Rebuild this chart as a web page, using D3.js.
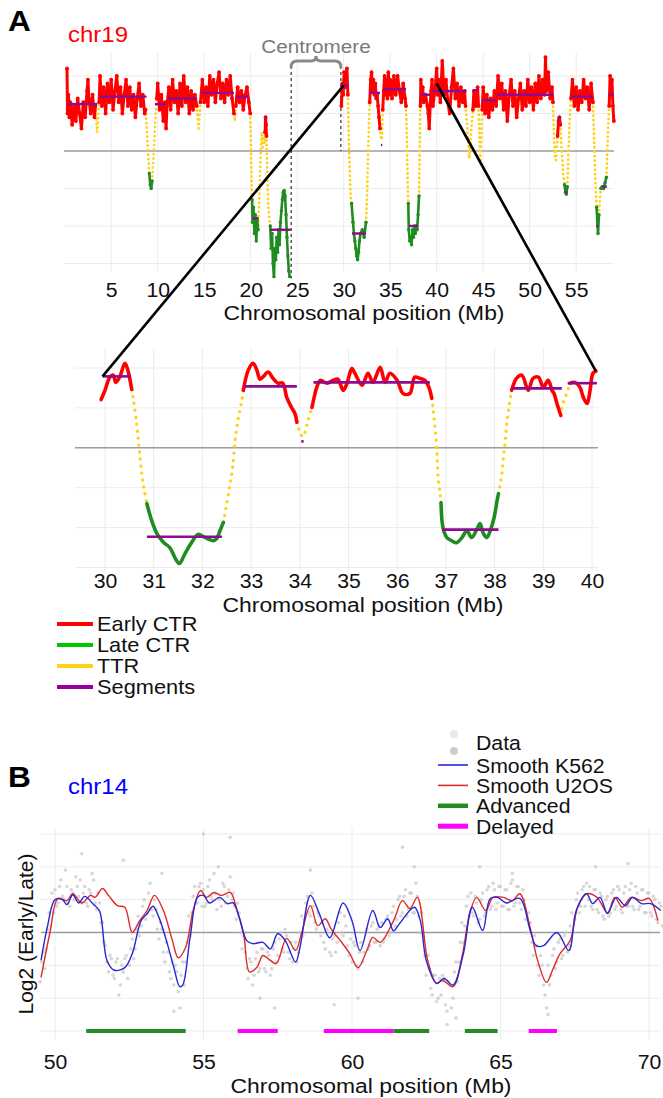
<!DOCTYPE html>
<html>
<head>
<meta charset="utf-8">
<script src="https://cdn.jsdelivr.net/npm/d3@7"></script>
<style>
  body { margin: 0; background: #fff; }
  svg text { font-family: "Liberation Sans", Arial, sans-serif; }
</style>
</head>
<body>
<div id="fig"></div>
<script>
// ---------- Panel A, whole chr19: runs of [Mb, log2] by class ----------
const chr19Early = [
  [[0.25,2.2],[0.3,1.0],[0.4,1.5],[0.5,0.9],[0.6,1.3],[0.8,0.7],[1.0,1.2],[1.2,0.8],[1.4,1.4],[1.6,1.0],[1.8,0.6],[2.0,1.3],[2.2,0.9],[2.4,1.6],[2.5,1.9],[2.6,1.4],[2.8,1.0],[3.0,1.5],[3.2,0.9],[3.3,1.2]],
  [[3.7,1.3],[3.8,2.0],[4.0,1.2],[4.2,1.7],[4.4,1.0],[4.6,1.8],[4.8,1.3],[5.0,1.9],[5.2,1.1],[5.4,1.6],[5.6,2.0],[5.8,1.3],[6.0,1.7],[6.2,1.0],[6.4,1.5],[6.6,1.9],[6.8,1.2],[7.0,1.7],[7.2,1.1],[7.4,1.5],[7.6,0.9],[7.8,1.4],[8.0,1.8],[8.2,1.2],[8.4,1.5],[8.6,1.0],[8.7,1.1]],
  [[9.9,1.4],[10.0,1.8],[10.2,1.1],[10.4,1.5],[10.6,0.8],[10.8,1.3],[10.9,0.6],[11.0,1.2],[11.2,1.7],[11.4,1.1],[11.6,1.9],[11.8,1.3],[12.0,1.6],[12.2,1.0],[12.4,1.8],[12.6,1.2],[12.8,2.0],[13.0,1.3],[13.2,1.7],[13.4,1.0],[13.6,1.6],[13.8,1.1],[14.0,1.5],[14.2,1.2]],
  [[14.6,1.3],[14.8,1.9],[15.0,1.3],[15.2,1.7],[15.4,1.2],[15.6,2.0],[15.8,1.5],[16.0,1.9],[16.2,1.3],[16.4,1.8],[16.6,2.1],[16.8,1.4],[17.0,1.8],[17.2,1.3],[17.4,1.9],[17.6,1.5],[17.8,2.0],[18.0,1.4],[18.2,1.0]],
  [[18.4,1.2],[18.6,1.7],[18.8,1.3],[19.0,1.6],[19.2,1.1],[19.4,1.5],[19.6,1.7],[19.8,1.3],[19.95,1.0]],
  [[21.55,0.5],[21.6,0.9],[21.65,0.7],[21.7,0.4]],
  [[29.75,1.2],[29.85,1.8],[29.95,1.5],[30.05,2.1],[30.15,1.7],[30.25,2.0],[30.35,2.2],[30.45,1.5]],
  [[32.8,1.3],[32.9,1.9],[33.0,2.1],[33.1,1.6],[33.2,1.9],[33.3,1.5],[33.4,1.8],[33.5,1.4],[33.6,1.5],[33.7,1.2],[33.8,0.9],[33.9,0.6]],
  [[34.2,1.1],[34.3,1.6],[34.4,2.0],[34.5,1.5],[34.6,1.9],[34.7,1.4],[34.8,2.1],[34.9,1.5],[35.0,1.9],[35.2,1.4],[35.4,2.0],[35.6,1.5],[35.8,2.0],[36.0,1.6],[36.2,1.3],[36.4,1.8],[36.6,1.4],[36.7,1.2]],
  [[38.25,1.2],[38.3,1.9],[38.4,1.4],[38.5,1.7],[38.6,1.3],[38.8,1.5],[39.0,1.2],[39.1,1.0],[39.2,0.6],[39.3,1.2],[39.4,1.6],[39.5,1.9],[39.6,1.2],[39.8,1.6],[40.0,2.2],[40.1,1.5],[40.2,1.9],[40.4,1.3],[40.6,2.4],[40.8,1.5],[41.0,1.9],[41.2,1.3],[41.4,1.0],[41.6,1.7],[41.8,2.2],[42.0,1.4],[42.2,1.8],[42.4,1.2],[42.6,1.7],[42.8,1.3],[43.0,1.6],[43.1,1.2]],
  [[43.9,1.1],[44.0,1.6],[44.2,1.2],[44.4,1.7],[44.5,1.2]],
  [[44.9,1.1],[45.0,1.7],[45.2,1.0],[45.4,1.5],[45.6,0.9],[45.8,1.4],[46.0,1.1],[46.2,1.6],[46.4,1.2],[46.6,2.0],[46.8,1.4],[47.0,1.8],[47.2,1.1],[47.4,1.6],[47.6,0.8],[47.8,1.5],[48.0,1.9],[48.2,1.2],[48.4,1.6],[48.6,0.9],[48.8,1.4],[49.0,1.8],[49.2,1.1],[49.4,1.6],[49.6,1.2],[49.8,1.9],[50.0,1.3],[50.2,1.7],[50.4,1.1],[50.6,1.8],[50.8,1.3],[51.0,2.0],[51.2,1.4],[51.4,1.9],[51.6,1.5],[51.7,2.5],[51.8,1.6],[52.0,2.1],[52.2,1.4],[52.4,1.7],[52.5,1.3]],
  [[53.0,0.4],[53.1,0.8],[53.2,0.9],[53.3,0.7]],
  [[54.45,1.4],[54.6,1.9],[54.8,1.2],[55.0,1.7],[55.2,1.1],[55.4,1.6],[55.6,1.3],[55.8,1.9],[56.0,1.4],[56.2,1.7],[56.4,1.1],[56.6,1.8],[56.8,1.3]],
  [[58.55,1.2],[58.65,2.0],[58.75,1.5],[58.85,1.9],[58.95,1.2],[59.05,0.8]]
];
const chr19TTR = [
  [[3.3,1.2],[3.4,0.8],[3.5,0.5],[3.6,0.9],[3.7,1.3]],
  [[8.7,1.1],[8.8,0.7],[8.9,0.3],[9.0,-0.2],[9.1,-0.6]],
  [[9.4,-0.8],[9.5,-0.4],[9.6,0.1],[9.7,0.6],[9.8,1.1],[9.9,1.4]],
  [[14.2,1.2],[14.3,0.9],[14.4,0.6],[14.5,0.9],[14.6,1.3]],
  [[18.2,1.0],[18.3,0.8],[18.4,1.2]],
  [[19.95,1.0],[20.0,0.5],[20.05,-0.2],[20.1,-0.8],[20.15,-1.3]],
  [[20.8,-2.1],[20.9,-1.4],[21.0,-0.6],[21.1,0.1],[21.2,0.5],[21.3,0.1],[21.4,0.4],[21.5,0.2],[21.55,0.5]],
  [[21.7,0.4],[21.75,-0.2],[21.8,-0.7],[21.85,-1.2],[21.9,-1.5],[22.0,-1.8],[22.1,-2.0]],
  [[30.45,1.5],[30.55,0.3],[30.65,-0.5],[30.75,-1.2],[30.85,-1.4]],
  [[32.4,-1.9],[32.5,-1.3],[32.6,-0.3],[32.7,0.6],[32.8,1.3]],
  [[33.9,0.6],[34.0,0.35],[34.1,0.3],[34.2,1.1]],
  [[36.7,1.2],[36.8,0.3],[36.85,-0.4],[36.9,-1.1],[36.95,-1.4]],
  [[38.1,-1.2],[38.15,-0.4],[38.2,0.5],[38.25,1.2]],
  [[43.1,1.2],[43.3,0.6],[43.5,-0.2],[43.7,0.5],[43.9,1.1]],
  [[44.5,1.2],[44.6,0.3],[44.7,-0.3],[44.8,0.4],[44.9,1.1]],
  [[52.5,1.3],[52.6,0.5],[52.7,-0.1],[52.8,-0.25],[52.9,0.0],[53.0,0.4]],
  [[53.3,0.7],[53.45,0.0],[53.6,-0.6],[53.75,-0.9]],
  [[54.05,-0.95],[54.15,-0.2],[54.25,0.5],[54.35,1.1],[54.45,1.4]],
  [[56.8,1.3],[56.9,0.6],[57.0,-0.3],[57.1,-1.0],[57.2,-1.5]],
  [[57.45,-1.7],[57.55,-1.3],[57.65,-1.0]],
  [[58.25,-0.7],[58.35,0.0],[58.45,0.7],[58.55,1.2]]
];
const chr19Late = [
  [[9.1,-0.6],[9.2,-0.9],[9.3,-1.0],[9.4,-0.8]],
  [[20.15,-1.3],[20.2,-1.9],[20.3,-1.5],[20.4,-2.2],[20.5,-1.7],[20.6,-2.4],[20.7,-1.8],[20.8,-2.1]],
  [[22.1,-2.0],[22.2,-2.6],[22.3,-2.2],[22.4,-3.0],[22.5,-3.35],[22.6,-2.6],[22.7,-2.9],[22.8,-2.3],[22.9,-2.7],[23.0,-2.1],[23.1,-2.5],[23.2,-1.9],[23.3,-1.6],[23.4,-1.3],[23.5,-1.1],[23.6,-1.05],[23.7,-1.2],[23.8,-1.7],[23.9,-2.3],[24.0,-2.8],[24.1,-3.2],[24.2,-3.35]],
  [[30.85,-1.4],[31.0,-1.9],[31.1,-2.2],[31.2,-2.4],[31.3,-2.6],[31.4,-2.8],[31.5,-2.9],[31.6,-2.7],[31.7,-2.4],[31.8,-2.2],[32.0,-2.1],[32.2,-2.3],[32.4,-1.9]],
  [[36.95,-1.4],[37.0,-2.1],[37.1,-2.4],[37.2,-2.3],[37.3,-2.5],[37.4,-2.1],[37.5,-2.3],[37.6,-2.0],[37.7,-2.2],[37.8,-2.0],[37.9,-2.1],[38.0,-1.7],[38.1,-1.2]],
  [[53.75,-0.9],[53.85,-1.1],[53.95,-1.15],[54.05,-0.95]],
  [[57.2,-1.5],[57.3,-2.0],[57.35,-2.2],[57.45,-1.7]],
  [[57.65,-1.0],[57.8,-0.95],[57.95,-1.0],[58.1,-0.85],[58.25,-0.7]]
];
// [start Mb, end Mb, level]
const chr19Segments = [[0.25,3.5,1.25],[3.7,8.8,1.45],[9.7,10.9,1.25],[11.1,14.2,1.4],[14.7,18.2,1.55],[18.4,19.8,1.45],[20.2,20.8,-1.8],[21.55,21.7,0.9],[22.1,24.3,-2.1],[29.8,30.5,1.75],[30.9,32.4,-2.2],[32.8,33.9,1.55],[34.0,34.15,0.16],[34.3,36.7,1.65],[37.0,38.0,-2.0],[38.3,39.3,1.5],[39.5,43.2,1.6],[43.9,44.5,1.62],[44.9,46.4,1.35],[46.5,52.5,1.5],[53.0,53.3,0.88],[53.8,54.0,-1.1],[54.4,56.8,1.45],[57.2,57.4,-2.0],[57.8,58.3,-0.95],[58.6,59.05,1.5]];
const centromere = [24.35, 29.7];
const chr19Ticks = [5, 10, 15, 20, 25, 30, 35, 40, 45, 50, 55];

// ---------- Panel A, zoom 30-40 Mb ----------
const zoomEarly = [
  [[29.92,1.21],[30.0,1.44],[30.1,1.77],[30.17,1.82],[30.22,1.64],[30.3,1.77],[30.41,2.12],[30.47,1.94],[30.55,1.46]],
  [[32.84,1.44],[32.94,1.94],[33.04,2.12],[33.12,1.94],[33.18,1.72],[33.24,1.77],[33.35,1.9],[33.45,1.74],[33.55,1.62],[33.65,1.62],[33.73,1.27],[33.83,1.01],[33.9,0.86],[33.94,0.64]],
  [[34.25,1.01],[34.29,1.24],[34.35,1.52],[34.42,1.69],[34.56,1.62],[34.68,1.69],[34.78,1.72],[34.89,1.44],[34.97,1.62],[35.07,1.99],[35.13,1.87],[35.28,1.57],[35.4,1.87],[35.5,1.64],[35.65,2.02],[35.75,1.64],[35.85,1.87],[36.0,1.69],[36.12,1.36],[36.26,1.36],[36.36,1.77],[36.47,1.74],[36.57,1.69],[36.65,1.52],[36.71,1.24]],
  [[38.35,1.44],[38.45,1.74],[38.56,1.82],[38.69,1.44],[38.79,1.74],[38.9,1.77],[39.0,1.52],[39.1,1.69],[39.18,1.44],[39.22,1.36],[39.28,1.11],[39.36,0.81]],
  [[39.55,1.62],[39.65,1.64],[39.75,1.52],[39.82,1.27],[39.9,1.11],[39.96,1.44],[40.02,1.87],[40.08,1.92]]
];
const zoomTTR = [
  [[30.55,1.46],[30.64,0.71],[30.7,0.0],[30.76,-0.7],[30.82,-1.15],[30.86,-1.4]],
  [[32.43,-1.87],[32.5,-1.4],[32.57,-0.9],[32.62,-0.49],[32.67,0.18],[32.74,0.76],[32.81,1.19],[32.84,1.44]],
  [[33.94,0.64],[34.0,0.39],[34.06,0.28],[34.1,0.36],[34.17,0.69],[34.25,1.01]],
  [[36.71,1.24],[36.74,0.94],[36.8,0.18],[36.82,-0.24],[36.84,-0.74],[36.88,-1.15],[36.9,-1.37]],
  [[38.08,-1.15],[38.15,-0.65],[38.18,-0.24],[38.22,0.18],[38.25,0.61],[38.3,1.06],[38.35,1.44]],
  [[39.36,0.81],[39.4,1.11],[39.48,1.36],[39.55,1.62]]
];
const zoomLate = [
  [[30.86,-1.4],[30.96,-1.83],[31.07,-2.16],[31.2,-2.37],[31.33,-2.5],[31.47,-2.83],[31.53,-2.9],[31.64,-2.66],[31.78,-2.37],[31.91,-2.17],[32.01,-2.22],[32.11,-2.28],[32.22,-2.33],[32.29,-2.28],[32.36,-2.08],[32.43,-1.87]],
  [[36.9,-1.37],[36.94,-2.0],[37.02,-2.25],[37.12,-2.33],[37.22,-2.38],[37.33,-2.25],[37.43,-2.08],[37.53,-2.25],[37.64,-2.03],[37.7,-1.9],[37.77,-2.15],[37.84,-2.25],[37.91,-2.08],[37.99,-1.75],[38.05,-1.33],[38.08,-1.15]]
];
const zoomSegments = [[29.95,30.53,1.79],[30.86,32.4,-2.23],[32.85,33.94,1.54],[34.03,34.08,0.16],[34.28,36.67,1.64],[36.92,38.08,-2.05],[38.37,39.38,1.49],[39.5,40.1,1.62]];
const zoomTicks = [30, 31, 32, 33, 34, 35, 36, 37, 38, 39, 40];
// where the two black connector lines attach: [Mb, level]
const linkTop = [[30, 1.75], [40, 1.8]];
const linkZoom = [[29.95, 1.79], [40.08, 1.92]];

// ---------- Panel B, chr14 ----------
const dataStart = 49.5, dataStep = 0.1;   // bin grid of the raw points
const dataRep1 = [-1.5,-0.6,-0.5,0.6,1.2,
  1.3,0.9,1.6,1.0,1.4,0.8,1.2,1.7,1.1,0.9,
  1.4,0.8,1.2,1.6,0.7,0.9,0.3,-0.4,-1.2,-0.8,
  -1.4,-0.8,-1.6,-1.2,-0.7,-1.0,-0.2,-0.5,0.5,0.2,
  1.0,0.6,1.5,0.5,0.7,-0.2,0.1,-0.9,-0.6,-1.4,
  -1.6,-1.2,-2.3,-0.9,-0.9,0.5,0.6,1.4,0.9,1.5,
  1.3,0.9,1.6,1.0,1.2,2.0,0.8,1.4,1.1,1.7,
  1.2,0.4,0.6,-0.5,-0.6,-1.4,-0.9,-1.3,-0.6,-1.1,
  -0.5,-1.2,-0.7,-1.1,-0.3,-0.7,0.0,-0.6,-0.1,-0.8,
  -0.9,-0.3,-0.6,0.5,0.4,1.1,0.5,0.8,0.1,0.5,
  0.3,-0.5,0.0,-0.7,-0.1,-0.3,0.6,-0.1,0.2,-0.7,
  -0.9,-0.4,-1.1,-0.3,-0.6,0.1,-0.4,0.3,-0.3,0.2,
  0.3,-0.2,0.5,0.0,0.8,0.4,1.1,0.6,1.3,0.7,
  1.2,0.6,1.1,0.0,-0.1,-1.3,-1.1,-1.9,-1.3,-2.0,
  -1.9,-1.4,-2.4,-1.6,-2.0,-0.9,-0.9,0.3,0.2,1.1,
  1.2,0.5,0.9,0.4,1.2,0.6,1.4,0.8,1.3,0.9,
  1.4,0.8,1.3,0.7,1.6,0.9,1.4,0.7,1.0,0.0,
  0.3,-0.7,-0.4,-1.3,-1.0,-1.9,-1.0,-1.3,-0.5,-0.9,
  -0.2,-0.7,0.0,-0.4,0.6,0.4,1.2,0.8,1.4,1.5,
  1.4,0.7,1.3,0.6,1.1,0.4,1.1,0.6,1.3,0.8,
  1.3,0.6,1.4,0.8,1.5,0.7,1.2,0.8,1.3,0.6,
  1.2,0.5,1.0,0.3,0.8];
const dataRep2 = [-0.9,-1.1,0.1,0.2,0.6,
  0.8,1.4,1.1,1.9,0.9,1.3,1.0,1.4,1.6,1.2,
  0.9,1.3,1.8,0.9,1.2,0.3,-0.3,-0.9,-0.7,-1.3,
  -0.9,-1.9,-1.0,-0.8,-1.4,-0.5,-0.8,0.1,-0.1,0.8,
  0.4,1.2,0.7,1.0,0.1,0.3,-0.6,-0.3,-1.2,-0.9,
  -1.0,-1.8,-1.3,-1.6,-0.3,-0.1,1.1,0.9,1.4,0.8,
  0.8,1.4,1.1,1.8,0.7,1.0,1.5,0.9,1.3,1.0,
  0.8,0.9,0.0,-0.1,-1.1,-0.8,-1.6,-0.8,-1.2,-0.5,
  -1.1,-0.6,-1.3,-0.5,-0.9,-0.2,-0.5,0.1,-0.6,-0.3,
  -0.5,-0.9,0.0,-0.1,0.9,0.6,1.2,0.3,0.6,-0.1,
  -0.3,0.1,-0.6,-0.2,-0.6,0.3,0.0,0.5,-0.4,-0.2,
  -0.3,-1.0,-0.6,-0.9,0.0,-0.5,0.2,-0.3,0.1,-0.4,
  -0.3,0.4,-0.1,0.6,0.2,1.0,0.5,1.1,0.5,1.2,
  0.6,1.5,0.5,0.6,-0.7,-0.7,-1.7,-1.3,-2.1,-1.4,
  -1.3,-2.2,-1.5,-2.3,-1.2,-1.5,-0.3,-0.3,0.8,0.5,
  0.6,1.1,0.3,1.0,0.5,1.3,0.7,1.5,0.7,1.4,
  0.8,1.3,0.7,1.5,0.8,1.4,0.9,1.3,0.4,0.6,
  -0.3,-0.1,-1.0,-0.7,-1.6,-2.3,-1.6,-0.7,-1.1,-0.3,
  -0.8,-0.1,-0.6,0.2,0.0,1.0,0.6,1.3,0.8,1.0,
  0.8,1.3,0.7,1.2,0.5,1.0,0.5,1.2,0.7,1.4,
  0.7,1.2,0.8,1.3,0.8,1.4,0.7,1.3,0.6,1.2,
  0.6,1.1,0.4,0.9,0.2];
const dataOutliers = [[50.9,2.4],[52.3,2.2],[53.6,1.8],[55.0,3.0],[55.9,2.9],[58.6,1.9],[61.7,2.6],[62.1,2.0],[64.3,2.0],[65.4,1.8],[68.2,2.0],[69.3,2.1],[54.0,-2.4],[56.9,-2.0],[57.4,-2.3],[59.4,-2.2],[60.2,-2.0],[63.2,-2.8],[63.5,-2.6],[66.6,-2.5]];
const smoothK562 = [[49.53,-0.85],[49.75,0.2],[50.0,1.0],[50.25,1.0],[50.4,0.85],[50.6,1.15],[50.8,0.9],[51.0,1.1],[51.3,0.85],[51.5,0.65],[51.75,-0.85],[52.0,-1.15],[52.35,-1.07],[52.6,-0.65],[52.9,0.36],[53.1,0.57],[53.3,0.8],[53.5,0.46],[53.75,-0.24],[54.0,-1.06],[54.2,-1.65],[54.3,-1.6],[54.55,-0.15],[54.8,1.07],[55.0,1.13],[55.2,0.9],[55.55,1.07],[55.8,0.88],[56.0,0.9],[56.2,0.46],[56.45,-0.24],[56.65,-0.34],[57.0,-0.3],[57.25,-0.5],[57.5,-0.03],[57.75,-0.24],[58.1,-0.9],[58.25,-0.45],[58.6,1.13],[58.9,0.57],[59.25,-0.16],[59.7,0.9],[60.0,0.36],[60.27,-0.55],[60.7,0.67],[60.95,0.15],[61.2,0.42],[61.4,0.05],[61.6,0.27],[62.1,0.77],[62.3,0.36],[62.5,-0.85],[62.85,-1.55],[63.1,-1.4],[63.4,-1.6],[63.75,-0.65],[64.05,0.77],[64.4,0.06],[64.65,1.03],[64.9,1.07],[65.2,0.9],[65.65,1.04],[66.0,0.06],[66.2,-0.4],[66.45,-0.4],[66.9,0.0],[67.3,-0.55],[67.55,0.67],[67.9,1.18],[68.1,0.88],[68.35,1.07],[68.6,0.58],[68.9,1.07],[69.2,0.82],[69.45,1.07],[69.75,0.88],[70.05,0.88],[70.4,0.67]];
const smoothU2OS = [[49.53,-1.37],[49.83,0.0],[50.1,1.04],[50.4,0.97],[50.6,1.18],[50.9,0.9],[51.2,1.13],[51.35,1.07],[51.6,1.34],[51.8,1.13],[52.1,0.82],[52.35,0.77],[52.6,0.0],[52.85,0.36],[53.1,0.67],[53.35,1.13],[53.65,0.67],[53.95,-0.24],[54.15,-0.77],[54.4,-0.45],[54.65,0.67],[54.9,1.28],[55.1,1.07],[55.35,1.22],[55.6,1.13],[55.9,1.22],[56.1,0.77],[56.35,-0.03],[56.55,-1.2],[56.8,-1.06],[57.0,-0.7],[57.25,-0.85],[57.45,-0.95],[57.8,-0.18],[58.1,-0.55],[58.3,-0.03],[58.6,0.82],[58.85,0.21],[59.1,0.42],[59.3,0.1],[59.6,-0.24],[59.93,-0.65],[60.2,-1.07],[60.5,-0.55],[60.7,-0.15],[60.95,-0.3],[61.4,0.36],[61.7,0.97],[61.95,0.73],[62.2,1.07],[62.55,-0.85],[62.85,-1.55],[63.05,-1.46],[63.4,-1.65],[63.7,-0.75],[63.97,0.6],[64.2,1.07],[64.5,0.67],[64.75,1.07],[65.1,1.07],[65.4,0.97],[65.65,1.18],[66.0,0.15],[66.25,-0.85],[66.55,-1.52],[66.75,-1.15],[67.0,-0.65],[67.35,-0.24],[67.6,0.77],[67.9,1.18],[68.25,1.07],[68.6,0.6],[68.85,1.07],[69.1,0.77],[69.4,1.07],[69.75,0.97],[70.0,1.04],[70.3,0.36]];
const advanced = [[51.05,54.4],[61.4,62.6],[63.8,64.9]];
const delayed = [[56.15,57.5],[59.05,61.4],[65.95,66.9]];
const chr14Ticks = [50, 55, 60, 65, 70];

const COL = {
  early: '#ff0000', late: '#1f8c1f', ttr: '#ffd21a', seg: '#8e0a8e',
  grid: '#ececec', zero: '#9c9c9c', gray: '#c9c9c9',
  k562: '#2626d4', u2os: '#e02a2a', adv: '#238b23', del: '#ff00ff'
};
const SX = 1.09;   // text in the figure is slightly wide

const svg = d3.select('#fig').append('svg')
  .attr('width', 663)
  .attr('height', 1098);

// light background grid + zero line
function drawGrid(g, x, y, xTicks, yTicks, box) {
  g.selectAll(null).data(xTicks).enter().append('line')
    .attr('x1', d => x(d)).attr('x2', d => x(d))
    .attr('y1', box.y0).attr('y2', box.y1)
    .attr('stroke', COL.grid).attr('stroke-width', 1);
  g.selectAll(null).data(yTicks.filter(d => d !== 0)).enter().append('line')
    .attr('x1', box.x0).attr('x2', box.x1)
    .attr('y1', d => y(d)).attr('y2', d => y(d))
    .attr('stroke', COL.grid).attr('stroke-width', 1);
  g.append('line')
    .attr('x1', box.x0).attr('x2', box.x1)
    .attr('y1', y(0)).attr('y2', y(0))
    .attr('stroke', COL.zero).attr('stroke-width', 1.6);
}

// one path per run; dotted runs use a zero-length dash pattern
function drawRuns(g, runs, x, y, color, opts) {
  const line = d3.line()
    .x(d => x(d[0]))
    .y(d => y(d[1]))
    .curve(opts.curve || d3.curveLinear);
  g.selectAll(null).data(runs).enter().append('path')
    .attr('d', line)
    .attr('fill', 'none')
    .attr('stroke', color)
    .attr('stroke-width', opts.width)
    .attr('stroke-linecap', 'round')
    .attr('stroke-linejoin', 'round')
    .attr('stroke-dasharray', opts.dots ? `0,${opts.dots}` : null);
  if (opts.r) {
    g.selectAll(null).data(runs.flat()).enter().append('circle')
      .attr('cx', d => x(d[0]))
      .attr('cy', d => y(d[1]))
      .attr('r', opts.r)
      .attr('fill', color);
  }
}

function drawSegments(g, segs, x, y, width) {
  g.selectAll(null).data(segs).enter().append('line')
    .attr('x1', d => x(d[0])).attr('x2', d => x(d[1]))
    .attr('y1', d => y(d[2])).attr('y2', d => y(d[2]))
    .attr('stroke', COL.seg)
    .attr('stroke-width', width);
}

function drawXAxis(g, x, ticks, baseline, fs) {
  const ax = g.append('g')
    .attr('transform', `translate(0,${baseline - 0.71 * fs})`)
    .call(d3.axisBottom(x).tickValues(ticks).tickSize(0).tickPadding(0).tickFormat(d3.format('d')));
  ax.select('.domain').remove();
  ax.attr('font-family', '"Liberation Sans", Arial, sans-serif')
    .attr('font-size', fs)
    .attr('color', '#111');
  ax.selectAll('text').attr('transform', `scale(${SX},1)`);
}

function addText(txt, x, y, fs, color, opts = {}) {
  return svg.append('text')
    .attr('transform', `translate(${x},${y}) scale(${SX},1)`)
    .attr('font-size', fs)
    .attr('fill', color)
    .attr('font-weight', opts.bold ? 'bold' : null)
    .attr('text-anchor', opts.anchor || 'start')
    .text(txt);
}

// ================= Panel A, whole chromosome =================
const xTop = d3.scaleLinear().domain([0, 59.1]).range([64.7, 614.3]);
const yTop = d3.scaleLinear().domain([-3, 2]).range([263.5, 76]);
const gTop = svg.append('g');
drawGrid(gTop, xTop, yTop, [10, 20, 30, 40, 50, 5, 15, 25, 35, 45, 55], [-3, -2, -1, 0, 1, 2],
  { x0: 64, x1: 614, y0: 53, y1: 272 });

// centromere marks
const cx0 = xTop(centromere[0]), cx1 = xTop(centromere[1]);
gTop.append('line').attr('x1', cx0).attr('x2', cx0).attr('y1', 66).attr('y2', yTop(-3.4))
  .attr('stroke', '#000').attr('stroke-width', 1).attr('stroke-dasharray', '3,3');
gTop.append('line').attr('x1', cx1).attr('x2', cx1).attr('y1', 66).attr('y2', yTop(0))
  .attr('stroke', '#000').attr('stroke-width', 1).attr('stroke-dasharray', '3,3');
const cm = (cx0 + cx1) / 2;
gTop.append('path')
  .attr('d', `M${cx0},67 Q${cx0},61 ${cx0 + 6},61 L${cm - 5},61 Q${cm},61 ${cm},56 Q${cm},61 ${cm + 5},61 L${cx1 - 6},61 Q${cx1},61 ${cx1},67`)
  .attr('fill', 'none').attr('stroke', '#8a8a8a').attr('stroke-width', 3).attr('stroke-linecap', 'round');

drawRuns(gTop, chr19TTR, xTop, yTop, COL.ttr, { width: 2.8, dots: 4.5 });
drawRuns(gTop, chr19Early, xTop, yTop, COL.early, { width: 3, r: 1.9 });
drawRuns(gTop, chr19Late, xTop, yTop, COL.late, { width: 2.6, r: 1.7 });
drawSegments(gTop, chr19Segments, xTop, yTop, 2.4);
drawXAxis(gTop, xTop, chr19Ticks, 297, 19.5);

// ================= Panel A, zoom 30-40 =================
const xZoom = d3.scaleLinear().domain([30, 40]).range([105, 592]);
const yZoom = d3.scaleLinear().domain([-3, 2]).range([567.5, 368]);
const gZoom = svg.append('g');
drawGrid(gZoom, xZoom, yZoom, zoomTicks, [-3, -2, -1, 0, 1, 2],
  { x0: 75, x1: 598, y0: 348, y1: 570 });
drawRuns(gZoom, zoomTTR, xZoom, yZoom, COL.ttr, { width: 3.4, dots: 7, curve: d3.curveCatmullRom });
drawRuns(gZoom, zoomEarly, xZoom, yZoom, COL.early, { width: 3.6, curve: d3.curveCatmullRom });
drawRuns(gZoom, zoomLate, xZoom, yZoom, COL.late, { width: 3.6, curve: d3.curveCatmullRom });
drawSegments(gZoom, zoomSegments, xZoom, yZoom, 2.6);
drawXAxis(gZoom, xZoom, zoomTicks, 588, 19.5);

// connector lines between the two views
svg.selectAll(null).data([0, 1]).enter().append('line')
  .attr('x1', i => xTop(linkTop[i][0])).attr('y1', i => yTop(linkTop[i][1]))
  .attr('x2', i => xZoom(linkZoom[i][0])).attr('y2', i => yZoom(linkZoom[i][1]))
  .attr('stroke', '#000').attr('stroke-width', 2.6);

addText('A', 8, 31, 29, '#000', { bold: true });
addText('chr19', 68, 42, 22, '#ff0000');
addText('Centromere', 316, 53, 19, '#7a7a7a', { anchor: 'middle' });
addText('Chromosomal position (Mb)', 364, 320, 21, '#111', { anchor: 'middle' });
addText('Chromosomal position (Mb)', 363, 612, 21, '#111', { anchor: 'middle' });

// legend A
const legA = [['Early CTR', COL.early], ['Late CTR', '#00c800'], ['TTR', COL.ttr], ['Segments', '#990099']];
const lg = svg.append('g').selectAll('g').data(legA).enter().append('g')
  .attr('transform', (d, i) => `translate(0,${624 + i * 21})`);
lg.append('line').attr('x1', 57).attr('x2', 93).attr('stroke', d => d[1]).attr('stroke-width', 4);
lg.append('text').attr('transform', `translate(97,7) scale(${SX},1)`)
  .attr('font-size', 20).attr('fill', '#111').text(d => d[0]);

// ================= Panel B =================
const xB = d3.scaleLinear().domain([50, 70]).range([55, 649]);
const yB = d3.scaleLinear().domain([-3, 3]).range([1031, 834]);
const gB = svg.append('g');
drawGrid(gB, xB, yB, chr14Ticks, [-3, -2, -1, 0, 1, 2, 3], { x0: 41, x1: 660, y0: 828, y1: 1040 });

const rawPts = dataRep1.map((v, i) => [dataStart + i * dataStep, v])
  .concat(dataRep2.map((v, i) => [dataStart + dataStep / 2 + i * dataStep, v]))
  .concat(dataOutliers);
gB.selectAll(null).data(rawPts).enter().append('circle')
  .attr('cx', d => xB(d[0]))
  .attr('cy', d => yB(d[1]))
  .attr('r', 1.8)
  .attr('fill', COL.gray)
  .attr('opacity', 0.75);

const lineB = d3.line().x(d => xB(d[0])).y(d => yB(d[1])).curve(d3.curveCatmullRom);
gB.append('path').attr('d', lineB(smoothU2OS)).attr('fill', 'none').attr('stroke', COL.u2os).attr('stroke-width', 1.4);
gB.append('path').attr('d', lineB(smoothK562)).attr('fill', 'none').attr('stroke', COL.k562).attr('stroke-width', 1.4);

const barRows = [[advanced, COL.adv], [delayed, COL.del]];
barRows.forEach(([bars, color]) => {
  gB.selectAll(null).data(bars).enter().append('line')
    .attr('x1', d => xB(d[0])).attr('x2', d => xB(d[1]))
    .attr('y1', yB(-3)).attr('y2', yB(-3))
    .attr('stroke', color).attr('stroke-width', 4);
});
drawXAxis(gB, xB, chr14Ticks, 1069, 19.5);

addText('B', 8, 787, 29, '#000', { bold: true });
addText('chr14', 68, 794, 22, '#0000ff');
addText('Chromosomal position (Mb)', 371, 1093, 21, '#111', { anchor: 'middle' });
svg.append('text')
  .attr('transform', 'translate(33,934) rotate(-90)')
  .attr('text-anchor', 'middle').attr('font-size', 21).attr('fill', '#111')
  .text('Log2 (Early/Late)');

// legend B
svg.append('circle').attr('cx', 454).attr('cy', 734).attr('r', 4).attr('fill', '#e8e8e8');
svg.append('circle').attr('cx', 454).attr('cy', 751).attr('r', 4).attr('fill', '#cdcdcd');
addText('Data', 476, 750, 19.5, '#111');
const legB = [['Smooth K562', COL.k562, 1.6], ['Smooth U2OS', COL.u2os, 1.6], ['Advanced', COL.adv, 4.5], ['Delayed', COL.del, 5]];
const lb = svg.append('g').selectAll('g').data(legB).enter().append('g')
  .attr('transform', (d, i) => `translate(0,${765 + i * 20.4})`);
lb.append('line').attr('x1', 438).attr('x2', 468).attr('stroke', d => d[1]).attr('stroke-width', d => d[2]);
lb.append('text').attr('transform', `translate(476,7.5) scale(${SX},1)`)
  .attr('font-size', 19.5).attr('fill', '#111').text(d => d[0]);
</script>
</body>
</html>
